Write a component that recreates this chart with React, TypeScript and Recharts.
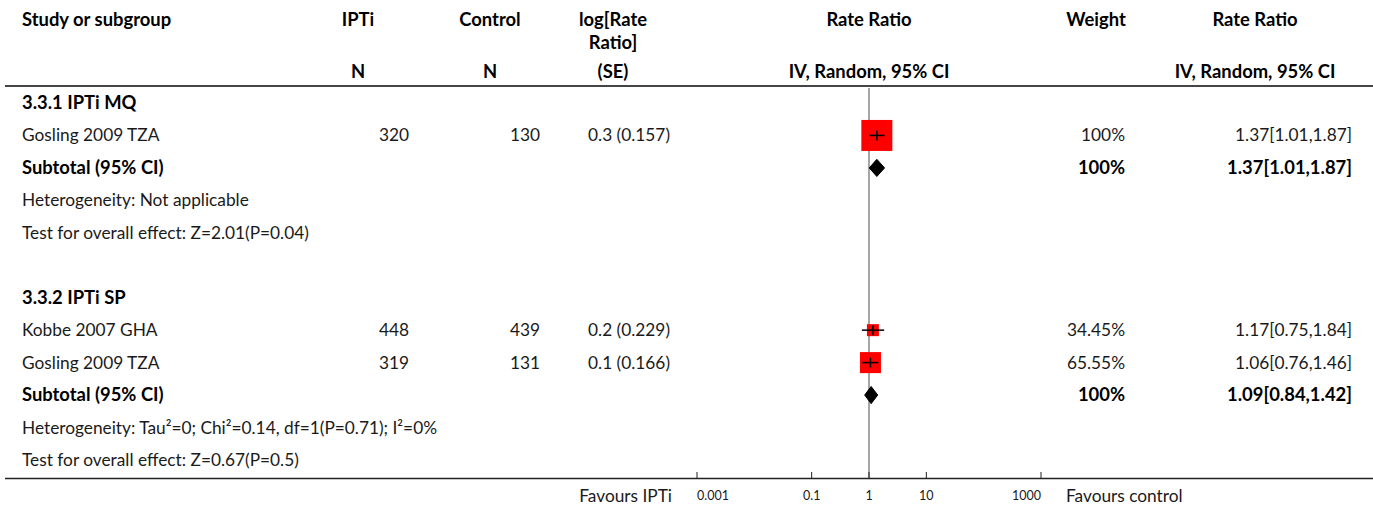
import React from 'react';
import {
  ComposedChart,
  Scatter,
  XAxis,
  YAxis,
  ReferenceLine,
} from 'recharts';

const FONT = 'Lato, "Noto Sans", sans-serif';
const W = 1373;
const H = 510;
const REG = 17.3;
const BOLD = 18.4;

// studies (one row each)
const studyRows = [1, 7, 8];
const studyNames = ['Gosling 2009 TZA', 'Kobbe 2007 GHA', 'Gosling 2009 TZA'];
const iptiN = ['320', '448', '319'];
const controlN = ['130', '439', '131'];
const logSe = ['0.3 (0.157)', '0.2 (0.229)', '0.1 (0.166)'];
const studyRR = [1.37, 1.17, 1.06];
const studyLo = [1.01, 0.75, 0.76];
const studyHi = [1.87, 1.84, 1.46];
const studyWeight = [100, 34.45, 65.55];

// subtotals
const subRows = [2, 9];
const subRR = [1.37, 1.09];
const subLo = [1.01, 0.84];
const subHi = [1.87, 1.42];

// other text rows
const groupTitles: Array<[number, string]> = [
  [0, '3.3.1 IPTi MQ'],
  [6, '3.3.2 IPTi SP'],
];
const noteRows: Array<[number, string]> = [
  [3, 'Heterogeneity: Not applicable'],
  [4, 'Test for overall effect: Z=2.01(P=0.04)'],
  [10, 'Heterogeneity: Tau\u00b2=0; Chi\u00b2=0.14, df=1(P=0.71); I\u00b2=0%'],
  [11, 'Test for overall effect: Z=0.67(P=0.5)'],
];

const xTicks = [0.001, 0.1, 1, 10, 1000];
const rowTicks = [0, 1, 2, 3, 4, 5, 6, 7, 8, 9, 10, 11];

const fmt = (v: number) => v.toFixed(2);

type Cells = {
  label?: string;
  bold?: boolean;
  n1?: string;
  n2?: string;
  se?: string;
  weight?: string;
  ci?: string;
};

const rowCells: Record<number, Cells> = {};
groupTitles.forEach(([r, t]) => (rowCells[r] = { label: t, bold: true }));
noteRows.forEach(([r, t]) => (rowCells[r] = { label: t }));
studyRows.forEach((r, i) => {
  rowCells[r] = {
    label: studyNames[i],
    n1: iptiN[i],
    n2: controlN[i],
    se: logSe[i],
    weight: `${studyWeight[i]}%`,
    ci: `${fmt(studyRR[i])}[${fmt(studyLo[i])},${fmt(studyHi[i])}]`,
  };
});
subRows.forEach((r, i) => {
  rowCells[r] = {
    label: 'Subtotal (95% CI)',
    bold: true,
    weight: '100%',
    ci: `${fmt(subRR[i])}[${fmt(subLo[i])},${fmt(subHi[i])}]`,
  };
});

const squareData = studyRows.map((r, i) => ({ x: studyRR[i], y: r, w: studyWeight[i] }));

const ciData = studyRows.map((r, i) => [
  { x: studyLo[i], y: r },
  { x: studyHi[i], y: r },
]);

const DIA_H = 0.265;
const diamondData = subRows.map((r, i) => [
  { x: subLo[i], y: r },
  { x: subRR[i], y: r - DIA_H },
  { x: subHi[i], y: r },
  { x: subRR[i], y: r + DIA_H },
]);

const txt = (bold = false, size?: number): React.SVGProps<SVGTextElement> => ({
  fontFamily: FONT,
  fontSize: size ?? (bold ? BOLD : REG),
  fontWeight: bold ? 700 : 400,
  fill: bold ? '#000' : '#1a1a1a',
});

const RowTick = (props: any) => {
  const { y, payload } = props;
  const c = rowCells[payload.value];
  if (!c) return null;
  const b = !!c.bold;
  const yy = y + 6;
  return (
    <g>
      {c.label && (
        <text x={22} y={yy} textAnchor="start" {...txt(b)}>
          {c.label}
        </text>
      )}
      {c.n1 && (
        <text x={409} y={yy} textAnchor="end" {...txt(b)}>
          {c.n1}
        </text>
      )}
      {c.n2 && (
        <text x={540} y={yy} textAnchor="end" {...txt(b)}>
          {c.n2}
        </text>
      )}
      {c.se && (
        <text x={670} y={yy} textAnchor="end" {...txt(b)}>
          {c.se}
        </text>
      )}
      {c.weight && (
        <text x={1125} y={yy} textAnchor="end" {...txt(b)}>
          {c.weight}
        </text>
      )}
      {c.ci && (
        <text x={1352} y={yy} textAnchor="end" {...txt(b)}>
          {c.ci}
        </text>
      )}
    </g>
  );
};

const XTick = (props: any) => {
  const { x, y, payload, index } = props;
  const last = xTicks.length - 1;
  const anchor = index === 0 ? 'start' : index === last ? 'end' : 'middle';
  return (
    <g>
      <line x1={x} x2={x} y1={y - 6} y2={y} stroke="#222" strokeWidth={1} />
      <text x={x} y={y + 22} textAnchor={anchor} {...txt(false, 12.5)}>
        {String(payload.value)}
      </text>
    </g>
  );
};

const Square = (props: any) => {
  const { cx, cy, payload } = props;
  const s = 2 + 0.29 * payload.w;
  return (
    <g>
      <rect x={cx - s / 2} y={cy - s / 2} width={s} height={s} fill="#ff0000" />
      <line x1={cx} x2={cx} y1={cy - 5} y2={cy + 5} stroke="#000" strokeWidth={1.5} />
    </g>
  );
};

const Nothing = () => <g />;

const px = (q: any) => (q.cx != null ? q.cx : q.x);
const py = (q: any) => (q.cy != null ? q.cy : q.y);

const ciLine = (p: any) => {
  const pts = p.points || [];
  if (pts.length < 2) return <g />;
  return (
    <line
      x1={px(pts[0])}
      y1={py(pts[0])}
      x2={px(pts[1])}
      y2={py(pts[1])}
      stroke="#000"
      strokeWidth={1.5}
    />
  );
};

const diamondShape = (p: any) => {
  const pts = p.points || [];
  if (!pts.length) return <g />;
  const d = pts.map((q: any, i: number) => `${i ? 'L' : 'M'}${px(q)},${py(q)}`).join(' ') + ' Z';
  return <path d={d} fill="#000" stroke="#000" strokeWidth={1} />;
};

const Headers = () => (
  <svg
    width={W}
    height={H}
    style={{ position: 'absolute', left: 0, top: 0, pointerEvents: 'none' }}
  >
    <text x={22} y={26} {...txt(true)}>Study or subgroup</text>
    <text x={358} y={26} textAnchor="middle" {...txt(true)}>IPTi</text>
    <text x={490} y={26} textAnchor="middle" {...txt(true)}>Control</text>
    <text x={613} y={26} textAnchor="middle" {...txt(true)}>log[Rate</text>
    <text x={613} y={49} textAnchor="middle" {...txt(true)}>Ratio]</text>
    <text x={869} y={26} textAnchor="middle" {...txt(true)}>Rate Ratio</text>
    <text x={1096} y={26} textAnchor="middle" {...txt(true)}>Weight</text>
    <text x={1255} y={26} textAnchor="middle" {...txt(true)}>Rate Ratio</text>

    <text x={358} y={78} textAnchor="middle" {...txt(true)}>N</text>
    <text x={490} y={78} textAnchor="middle" {...txt(true)}>N</text>
    <text x={613} y={78} textAnchor="middle" {...txt(true)}>(SE)</text>
    <text x={869} y={78} textAnchor="middle" {...txt(true)}>IV, Random, 95% CI</text>
    <text x={1255} y={78} textAnchor="middle" {...txt(true)}>IV, Random, 95% CI</text>

    <line x1={5} x2={W} y1={86} y2={86} stroke="#444" strokeWidth={2} />
    <line x1={5} x2={W} y1={478.5} y2={478.5} stroke="#222" strokeWidth={1.5} />

    <text x={672} y={502} textAnchor="end" {...txt(false)}>Favours IPTi</text>
    <text x={1066} y={502} textAnchor="start" {...txt(false)}>Favours control</text>
  </svg>
);

export default function App() {
  return (
    <div style={{ position: 'absolute', left: 0, top: 0, width: W, height: H, background: '#fff' }}>
      <ComposedChart
        width={W}
        height={H}
        margin={{ top: 88, right: 332, bottom: 2, left: 696 }}
      >
        <XAxis
          type="number"
          dataKey="x"
          scale="log"
          domain={[0.001, 1000]}
          ticks={xTicks}
          allowDataOverflow
          axisLine={false}
          tickLine={false}
          tickSize={0}
          tickMargin={0}
          height={30}
          interval={0}
          tick={<XTick />}
        />
        <YAxis
          type="number"
          dataKey="y"
          domain={[-0.462, 11.556]}
          reversed
          ticks={rowTicks}
          interval={0}
          allowDataOverflow
          width={1}
          axisLine={false}
          tickLine={false}
          tick={<RowTick />}
        />
        <ReferenceLine x={1} stroke="#888" strokeWidth={1.5} />
        <Scatter data={squareData} shape={<Square />} isAnimationActive={false} />
        {ciData.map((d, i) => (
          <Scatter
            key={`ci-${i}`}
            data={d}
            shape={<Nothing />}
            line={ciLine}
            isAnimationActive={false}
          />
        ))}
        {diamondData.map((d, i) => (
          <Scatter
            key={`dia-${i}`}
            data={d}
            shape={<Nothing />}
            line={diamondShape}
            isAnimationActive={false}
          />
        ))}
      </ComposedChart>
      <Headers />
    </div>
  );
}
